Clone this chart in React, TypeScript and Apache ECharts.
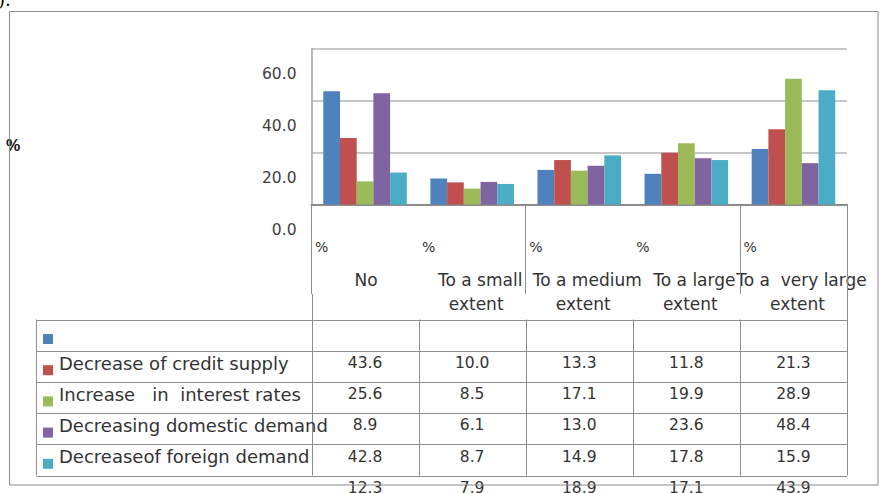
import React, { useEffect, useRef } from "react";
import * as echarts from "echarts";

// Category labels, one entry per wrapped line
const categoryLines: string[][] = [
  ["No"],
  ["To a small", "extent"],
  ["To a medium", "extent"],
  ["To a large", "extent"],
  ["To a  very large", "extent"],
];

// Row captions of the data table (first row has a key but no caption)
const rowLabels: string[] = [
  "",
  "Decrease of credit supply",
  "Increase   in  interest rates",
  "Decreasing domestic demand",
  "Decreaseof foreign demand",
];

// Percentages per series, in category order
const series1: number[] = [43.6, 10.0, 13.3, 11.8, 21.3];
const series2: number[] = [25.6, 8.5, 17.1, 19.9, 28.9];
const series3: number[] = [8.9, 6.1, 13.0, 23.6, 48.4];
const series4: number[] = [42.8, 8.7, 14.9, 17.8, 15.9];
const series5: number[] = [12.3, 7.9, 18.9, 17.1, 43.9];

const yMin = 0;
const yMax = 60;
const yStep = 20;

const palette = ["#4F81BD", "#C0504D", "#9BBB59", "#8064A2", "#4BACC6"];
const allSeries = [series1, series2, series3, series4, series5];

// Layout
const W = 883;
const H = 493;
const PLOT_LEFT = 311.5;
const PLOT_RIGHT = 847;
const PLOT_TOP = 48.5;
const PLOT_BOTTOM = 204.5;
const SEP_BOTTOM = 294;
const TABLE_LEFT = 36.5;
const TABLE_TOP = 319.5;
const ROW_H = 31.2;
const FONT = "DejaVu Sans";
const TEXT_COLOR = "#333333";
const LINE_COLOR = "#8e8e8e";

function buildGraphic(): any[] {
  const els: any[] = [];
  const nCat = categoryLines.length;
  const colW = (PLOT_RIGHT - PLOT_LEFT) / nCat;
  const nRows = rowLabels.length;
  const tableBottom = TABLE_TOP + nRows * ROW_H;

  // outer frame
  els.push({
    type: "rect",
    shape: { x: 9.5, y: 11.5, width: 868.5, height: 473.5 },
    style: { fill: "none", stroke: "#8a8a8a", lineWidth: 1 },
    z: 10,
  });

  // stray caption fragment at the top-left corner
  els.push({
    type: "text",
    x: -2,
    y: 8,
    style: { text: ").", fontSize: 18, fontFamily: "DejaVu Serif", fill: "#000", verticalAlign: "bottom" },
  });

  // y-axis unit
  els.push({
    type: "text",
    x: 6,
    y: 145,
    style: {
      text: "%",
      fontSize: 16,
      fontWeight: "bold",
      fontFamily: "Liberation Sans",
      fill: "#111",
      verticalAlign: "middle",
    },
  });

  // category captions
  categoryLines.forEach((lines, i) => {
    const left = PLOT_LEFT + i * colW;
    const center = left + colW / 2;
    els.push({
      type: "text",
      x: left + 3.5,
      y: 247,
      style: { text: "%", fontSize: 14, fontFamily: FONT, fill: TEXT_COLOR, verticalAlign: "middle" },
    });
    lines.forEach((line, j) => {
      const nudge = lines.length > 1 ? (j === 0 ? 8 : 4) : 1;
      els.push({
        type: "text",
        x: center + nudge,
        y: 280 + j * 23.5,
        style: {
          text: line,
          fontSize: 17,
          fontFamily: FONT,
          fill: TEXT_COLOR,
          align: "center",
          verticalAlign: "middle",
        },
      });
    });
  });

  // table grid: horizontal rules
  for (let r = 0; r <= nRows; r++) {
    const y = Math.round(TABLE_TOP + r * ROW_H) + 0.5;
    els.push({
      type: "line",
      shape: { x1: TABLE_LEFT, y1: y, x2: PLOT_RIGHT, y2: y },
      style: { stroke: LINE_COLOR, lineWidth: 1 },
    });
  }
  // table grid: vertical rules
  els.push({
    type: "line",
    shape: { x1: TABLE_LEFT, y1: TABLE_TOP, x2: TABLE_LEFT, y2: tableBottom },
    style: { stroke: LINE_COLOR, lineWidth: 1 },
  });
  for (let i = 0; i <= nCat; i++) {
    const x = Math.round(PLOT_LEFT + i * colW) + 0.5;
    const edge = i === 0 || i === nCat;
    els.push({
      type: "line",
      shape: { x1: x, y1: edge ? SEP_BOTTOM : TABLE_TOP, x2: x, y2: tableBottom },
      style: { stroke: LINE_COLOR, lineWidth: 1 },
    });
  }

  // legend keys and row captions
  rowLabels.forEach((label, r) => {
    const top = TABLE_TOP + r * ROW_H;
    els.push({
      type: "rect",
      shape: { x: 43, y: top + 14.5, width: 10, height: 10 },
      style: { fill: palette[r] },
    });
    if (label) {
      els.push({
        type: "text",
        x: 59,
        y: top + 12.6,
        style: { text: label, fontSize: 18, fontFamily: FONT, fill: TEXT_COLOR, verticalAlign: "middle" },
      });
    }
  });

  // value cells (each series is listed one row below its key)
  allSeries.forEach((vals, s) => {
    const top = TABLE_TOP + (s + 1) * ROW_H;
    vals.forEach((v, c) => {
      els.push({
        type: "text",
        x: PLOT_LEFT + c * colW + colW / 2,
        y: top + 12.3,
        style: {
          text: v.toFixed(1),
          fontSize: 15.5,
          fontFamily: FONT,
          fill: TEXT_COLOR,
          align: "center",
          verticalAlign: "middle",
        },
      });
    });
  });

  return els;
}

export default function App() {
  const ref = useRef<HTMLDivElement>(null);

  useEffect(() => {
    if (!ref.current) return;
    const chart = echarts.init(ref.current, undefined, { renderer: "svg" });
    chart.setOption({
      animation: false,
      backgroundColor: "#ffffff",
      grid: {
        left: PLOT_LEFT,
        top: PLOT_TOP,
        width: PLOT_RIGHT - PLOT_LEFT,
        height: PLOT_BOTTOM - PLOT_TOP,
        containLabel: false,
      },
      xAxis: {
        type: "category",
        data: categoryLines.map((l) => l.join(" ")),
        boundaryGap: true,
        axisLine: { show: true, lineStyle: { color: "#8c8c8c", width: 2 } },
        axisTick: {
          show: true,
          alignWithLabel: false,
          length: SEP_BOTTOM - PLOT_BOTTOM,
          lineStyle: { color: LINE_COLOR, width: 1 },
        },
        axisLabel: { show: false },
        splitLine: { show: false },
      },
      yAxis: {
        type: "value",
        min: yMin,
        max: yMax,
        interval: yStep,
        axisLine: { show: true, lineStyle: { color: "#a6a6a6", width: 1.5 } },
        axisTick: { show: false },
        axisLabel: {
          formatter: (v: number) => v.toFixed(1),
          fontSize: 15.5,
          fontFamily: FONT,
          color: "#404040",
          margin: 15,
          verticalAlign: "top",
          lineHeight: 51.8,
          showMinLabel: true,
          showMaxLabel: true,
          hideOverlap: false,
        },
        splitLine: { show: true, lineStyle: { color: "#b4b4b4", width: 1.5 } },
      },
      series: allSeries.map((vals, i) => ({
        name: `Series ${i + 1}`,
        type: "bar",
        data: vals,
        barGap: "0%",
        barCategoryGap: "22%",
        itemStyle: { color: palette[i] },
      })),
      graphic: buildGraphic(),
    });
    return () => chart.dispose();
  }, []);

  return (
    <div
      ref={ref}
      style={{ position: "absolute", left: 0, top: 0, width: W, height: H }}
    />
  );
}
